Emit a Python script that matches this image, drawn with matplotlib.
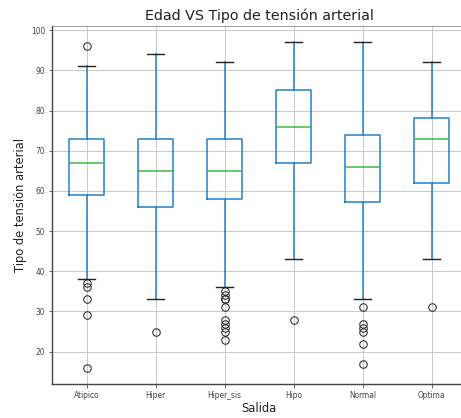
import matplotlib
matplotlib.use("Agg")
import matplotlib.pyplot as plt

# --------------------------------------
# Data
# --------------------------------------
categories = ["Atipico", "Hiper", "Hiper_sis", "Hipo", "Normal", "Optima"]

q1 = [59, 56, 58, 67, 57.3, 62]
medians = [67, 65, 65, 76, 66, 73]
q3 = [73, 73, 73, 85, 74, 78.2]
whis_low = [38, 33, 36, 43, 33, 43]
whis_high = [91, 94, 92, 97, 97, 92]

fliers = [
    [96, 37, 36, 33, 29, 16],
    [25],
    [35, 34, 33, 33, 31, 28, 27, 26, 25, 23],
    [28],
    [31, 27, 26, 25, 22, 17],
    [31],
]

stats = []
for i, name in enumerate(categories):
    stats.append({
        "label": name,
        "q1": q1[i],
        "med": medians[i],
        "q3": q3[i],
        "whislo": whis_low[i],
        "whishi": whis_high[i],
        "fliers": fliers[i],
    })

# --------------------------------------
# Plot
# --------------------------------------
fig = plt.figure(figsize=(461 / 72, 418 / 72), dpi=72)
ax = fig.add_axes([52 / 461, 34 / 418, 414 / 461, 358 / 418])

blue = "#1f7fc4"
ax.bxp(
    stats,
    widths=0.5,
    boxprops=dict(color=blue, linewidth=1.5),
    whiskerprops=dict(color=blue, linewidth=1.5),
    capprops=dict(color="#222222", linewidth=1.4),
    medianprops=dict(color="#3cb83c", linewidth=1.5),
    flierprops=dict(marker="o", markerfacecolor="none",
                    markeredgecolor="#222222", markersize=7.5),
)

ax.grid(True, color="#c8c8c8", linewidth=1)
ax.set_axisbelow(True)

ax.set_title("Edad VS Tipo de tensión arterial", fontsize=14.3, color="#222222")
ax.set_xlabel("Salida", fontsize=11.5, color="#222222", labelpad=2)
ax.set_ylabel("Tipo de tensión arterial", fontsize=11.5, color="#222222")
ax.tick_params(labelsize=7.5, colors="#444444", length=3.5)

for side in ["left", "bottom"]:
    ax.spines[side].set_color("#444444")
    ax.spines[side].set_linewidth(1.4)
ax.spines["top"].set_color("#888888")
ax.spines["right"].set_color("#888888")

plt.savefig("out.png", dpi=72)
plt.close()
